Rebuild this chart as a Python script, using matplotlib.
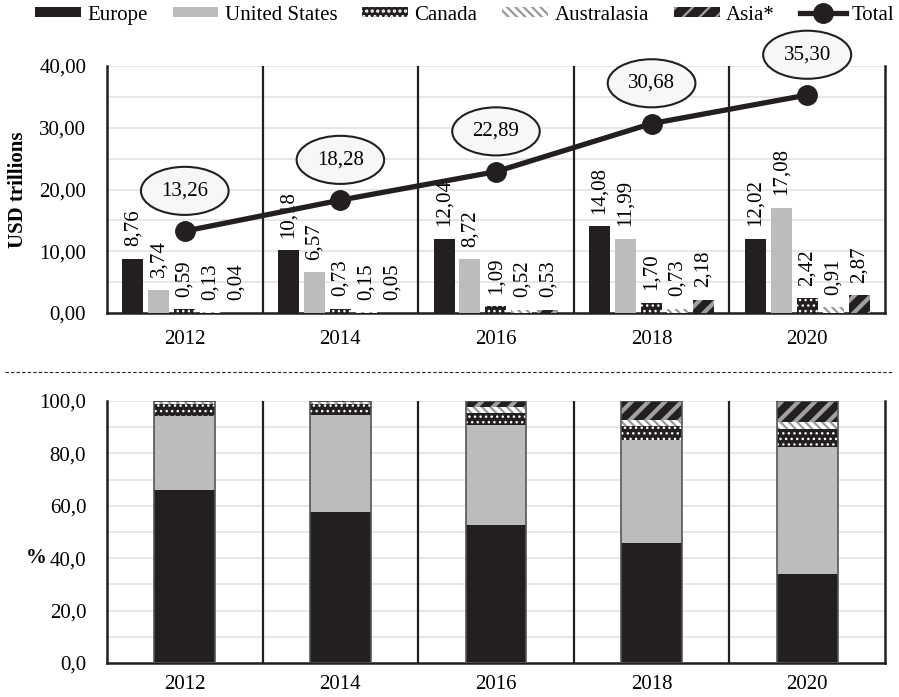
import matplotlib
matplotlib.use('Agg')
import matplotlib.pyplot as plt
from matplotlib.lines import Line2D
from matplotlib.patches import Patch
import numpy as np

plt.rcParams['font.family'] = ['Liberation Serif', 'DejaVu Serif']
plt.rcParams['hatch.linewidth'] = 1.6

# data
years = ['2012', '2014', '2016', '2018', '2020']
regions = ['Europe', 'United States', 'Canada', 'Australasia', 'Asia*']
europe = [8.76, 10.18, 12.04, 14.08, 12.02]
united_states = [3.74, 6.57, 8.72, 11.99, 17.08]
canada = [0.59, 0.73, 1.09, 1.70, 2.42]
australasia = [0.13, 0.15, 0.52, 0.73, 0.91]
asia = [0.04, 0.05, 0.53, 2.18, 2.87]
total = [13.26, 18.28, 22.89, 30.68, 35.30]

series = [europe, united_states, canada, australasia, asia]
dark = '#231f20'
# facecolor, hatch colour, hatch, hatch line width
styles = [
    (dark, dark, None, 1.0),
    ('#bcbcbc', '#bcbcbc', None, 1.0),
    (dark, 'white', '...', 1.0),
    ('white', '#999999', '\\\\\\\\', 1.6),
    (dark, '#a0a0a0', '//', 3.0),
]

fig = plt.figure(figsize=(8.99, 6.97), dpi=100)
ax1 = fig.add_axes([0.119, 0.5509, 0.8654, 0.3544])
ax2 = fig.add_axes([0.119, 0.0488, 0.8654, 0.3759])

x = np.arange(len(years)) + 0.5

def label(v, d):
    return f"{v:.{d}f}".replace('.', ',')

# top chart: grouped bars
pitch = 0.167
for i, (vals, (fc, hc, h, hw)) in enumerate(zip(series, styles)):
    xs = x + (i - 2) * pitch
    with plt.rc_context({'hatch.linewidth': hw}):
        ax1.bar(xs, vals, width=0.135, color=fc, edgecolor=hc, hatch=h, linewidth=0, zorder=3)
    for xi, v in zip(xs, vals):
        ax1.annotate(label(v, 2), (xi, v), xytext=(0, 9), textcoords='offset points',
                     rotation=90, ha='center', va='bottom', fontsize=15, zorder=4)

ax1.plot(x, total, color=dark, lw=3.8, marker='o', markersize=14, zorder=5)
for xi, t in zip(x, total):
    ax1.annotate(label(t, 2), (xi, t), xytext=(0, 29), textcoords='offset points',
                 ha='center', va='center', fontsize=15, zorder=6,
                 bbox=dict(boxstyle='ellipse,pad=0.36', fc='#f7f7f7', ec=dark, lw=1.5))

ax1.set_ylim(0, 40)
ax1.set_yticks(np.arange(0, 41, 10))
ax1.set_yticklabels([label(v, 2) for v in np.arange(0, 41, 10)])
ax1.set_yticks(np.arange(0, 41, 5), minor=True)
ax1.set_ylabel('USD trillions', fontsize=15, fontweight='bold', va='center')
ax1.yaxis.set_label_coords(-0.114, 0.5)

# bottom chart: stacked shares
sums = np.sum(np.array(series), axis=0)
bottom = np.zeros(len(years))
for vals, (fc, hc, h, hw) in zip(series, styles):
    share = np.array(vals) / sums * 100
    with plt.rc_context({'hatch.linewidth': hw}):
        ax2.bar(x, share, width=0.39, bottom=bottom, color=fc, edgecolor=hc, hatch=h,
                linewidth=0, zorder=3)
    bottom += share
ax2.bar(x, bottom, width=0.39, fill=False, edgecolor='#555555', linewidth=1.2, zorder=4)

ax2.set_ylim(0, 100)
ax2.set_yticks(np.arange(0, 101, 20))
ax2.set_yticklabels([label(v, 1) for v in np.arange(0, 101, 20)])
ax2.set_yticks(np.arange(0, 101, 10), minor=True)
ax2.set_ylabel('%', fontsize=15, fontweight='bold', rotation=0, ha='right', va='center')
ax2.yaxis.set_label_coords(-0.077, 0.4)

for ax, xpad in ((ax1, 12), (ax2, 9)):
    ax.set_xlim(0, 5)
    ax.set_xticks(x)
    ax.set_xticklabels(years)
    ax.tick_params(axis='both', which='both', length=0, labelsize=15)
    ax.tick_params(axis='x', pad=xpad)
    ax.tick_params(axis='y', pad=15)
    ax.grid(axis='y', which='both', color='#e3e3e3', lw=1.2, zorder=0)
    ax.spines['top'].set_visible(False)
    for s in ('left', 'bottom', 'right'):
        ax.spines[s].set_color(dark)
        ax.spines[s].set_linewidth(1.8)
    for b in range(1, 5):
        ax.axvline(b, color=dark, lw=1.6, zorder=2)

# dashed separator between the charts
fig.add_artist(Line2D([0.006, 0.994], [0.466, 0.466], transform=fig.transFigure,
                      color=dark, lw=0.8, ls=(0, (3, 2))))

handles = []
for name, (fc, hc, h, hw) in zip(regions, styles):
    with plt.rc_context({'hatch.linewidth': hw}):
        handles.append(Patch(facecolor=fc, edgecolor=hc, hatch=h, linewidth=0, label=name))
handles.append(Line2D([], [], color=dark, lw=3.8, marker='o', markersize=14, label='Total'))
fig.legend(handles=handles, loc='upper center', bbox_to_anchor=(0.517, 1.01), ncol=6,
           frameon=False, fontsize=15, handlelength=2.2, handleheight=0.3,
           columnspacing=1.2, handletextpad=0.3, borderaxespad=0.2)

fig.savefig('out.png', dpi=100)
